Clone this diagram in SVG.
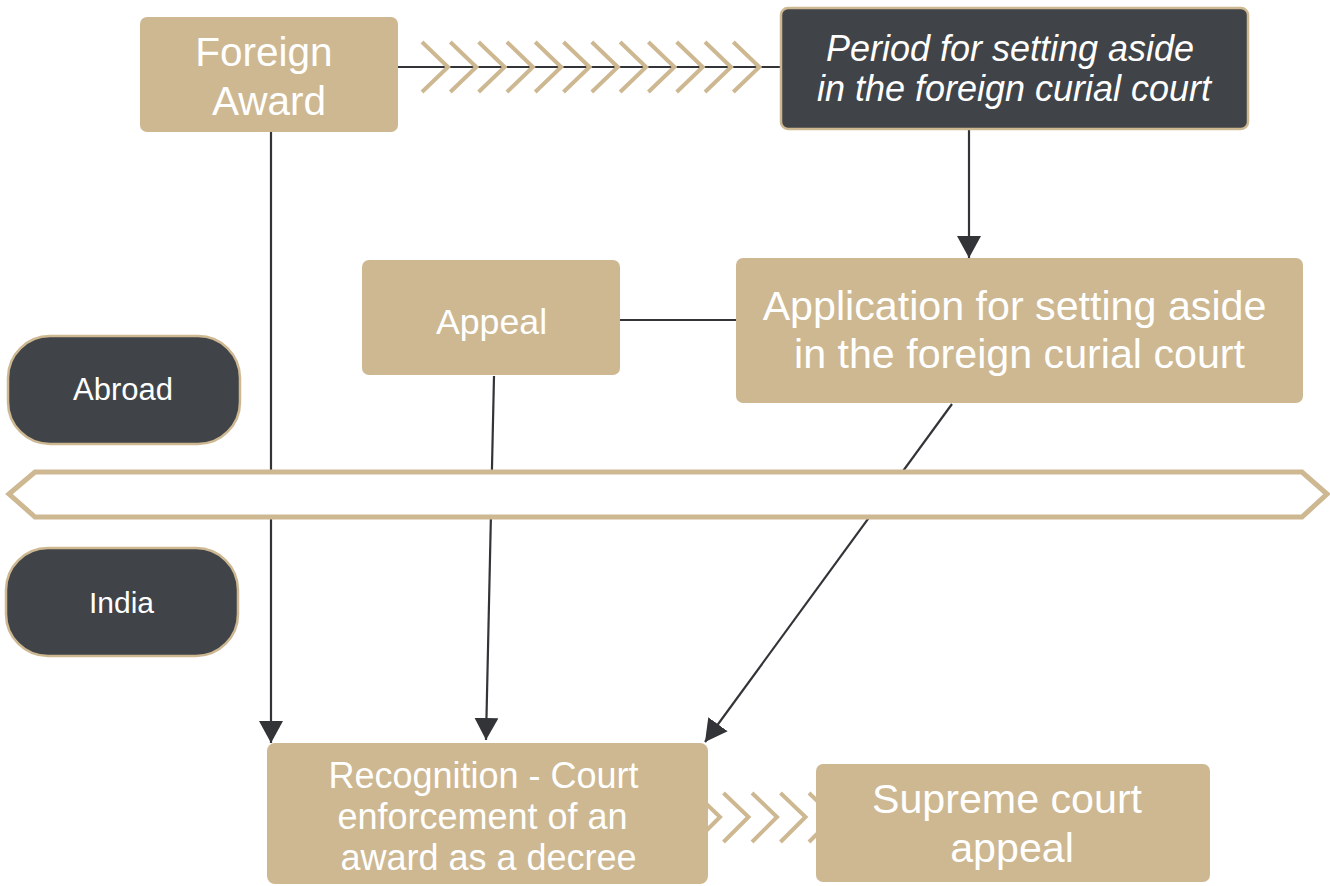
<svg xmlns="http://www.w3.org/2000/svg" width="1330" height="886" viewBox="0 0 1330 886">
<defs>
<marker id="ah2" viewBox="0 0 22 24" refX="22" refY="12" markerWidth="22" markerHeight="24" orient="auto" markerUnits="userSpaceOnUse">
<path d="M0,0 L22,12 L0,24 Z" fill="#333438"/>
</marker>
</defs>
<style>
.tan{fill:#CDB892;}
.dark{fill:#404448;stroke:#CDB892;stroke-width:2.5;}
.t{fill:#ffffff;text-anchor:middle;}
.ln{stroke:#333438;stroke-width:2.2;fill:none;}
.chev{stroke:#CDB892;stroke-width:4;fill:none;}
</style>
<rect width="1330" height="886" fill="#ffffff"/>
<g id="connectors">
<line class="ln" x1="398" y1="67" x2="780" y2="67"/>
<line class="ln" x1="271" y1="132" x2="271" y2="743" marker-end="url(#ah2)"/>
<line class="ln" x1="969" y1="129" x2="969" y2="258" marker-end="url(#ah2)"/>
<line class="ln" x1="620" y1="320" x2="736" y2="320"/>
<line class="ln" x1="494" y1="376" x2="486" y2="740" marker-end="url(#ah2)"/>
<line class="ln" x1="952" y1="404" x2="705" y2="742" marker-end="url(#ah2)"/>
<g id="chevrons-top">
<path class="chev" d="M422,42 L448,67 L422,92 M450.3,42 L476.3,67 L450.3,92 M478.6,42 L504.6,67 L478.6,92 M506.9,42 L532.9,67 L506.9,92 M535.2,42 L561.2,67 L535.2,92 M563.5,42 L589.5,67 L563.5,92 M591.8,42 L617.8,67 L591.8,92 M620.1,42 L646.1,67 L620.1,92 M648.4,42 L674.4,67 L648.4,92 M676.7,42 L702.7,67 L676.7,92 M705,42 L731,67 L705,92 M733.3,42 L759.3,67 L733.3,92"/>
</g>
<g id="chevrons-bottom">
<path class="chev" d="M695,793 L720,817 L695,842 M723.5,793 L748.5,817 L723.5,842 M752,793 L777,817 L752,842 M780.5,793 L805.5,817 L780.5,842 M809,793 L834,817 L809,842"/>
</g>
</g>
<g id="band">
<polygon points="9,494 35,472 1302,472 1327,494 1302,517 35,517" fill="#ffffff" stroke="#CDB892" stroke-width="5"/>
</g>
<g font-family="Liberation Sans, Arial, sans-serif">
<g id="foreign-award">
<rect class="tan" x="140" y="17" width="258" height="115" rx="7"/>
<text class="t" x="264" y="66" font-size="40.5">Foreign</text>
<text class="t" x="269" y="115" font-size="40.5">Award</text>
</g>
<g id="period">
<rect class="dark" x="781" y="8" width="467" height="121" rx="7"/>
<text class="t" x="1010" y="61" font-size="36" font-style="italic">Period for setting aside</text>
<text class="t" x="1014" y="101" font-size="36" font-style="italic">in the foreign curial court</text>
</g>
<g id="appeal">
<rect class="tan" x="362" y="260" width="258" height="115" rx="7"/>
<text class="t" x="491.5" y="334" font-size="35.7">Appeal</text>
</g>
<g id="application">
<rect class="tan" x="736" y="258" width="567" height="145" rx="7"/>
<text class="t" x="1014.5" y="320" font-size="41.2">Application for setting aside</text>
<text class="t" x="1019.5" y="368" font-size="41.2">in the foreign curial court</text>
</g>
<g id="abroad">
<rect class="dark" x="8" y="336" width="232" height="108" rx="42"/>
<text class="t" x="123" y="400" font-size="31">Abroad</text>
</g>
<g id="india">
<rect class="dark" x="6" y="548" width="232" height="108" rx="42"/>
<text class="t" x="121.5" y="613" font-size="30">India</text>
</g>
<g id="recognition">
<rect class="tan" x="267" y="743" width="441" height="141" rx="8"/>
<text class="t" x="483.5" y="788" font-size="36">Recognition - Court</text>
<text class="t" x="482.5" y="829" font-size="36">enforcement of an</text>
<text class="t" x="488.5" y="870" font-size="36">award as a decree</text>
</g>
<g id="supreme">
<rect class="tan" x="816" y="764" width="394" height="118" rx="7"/>
<text class="t" x="1007" y="813" font-size="41.2">Supreme court</text>
<text class="t" x="1012" y="862" font-size="41.2">appeal</text>
</g>
</g>
</svg>
